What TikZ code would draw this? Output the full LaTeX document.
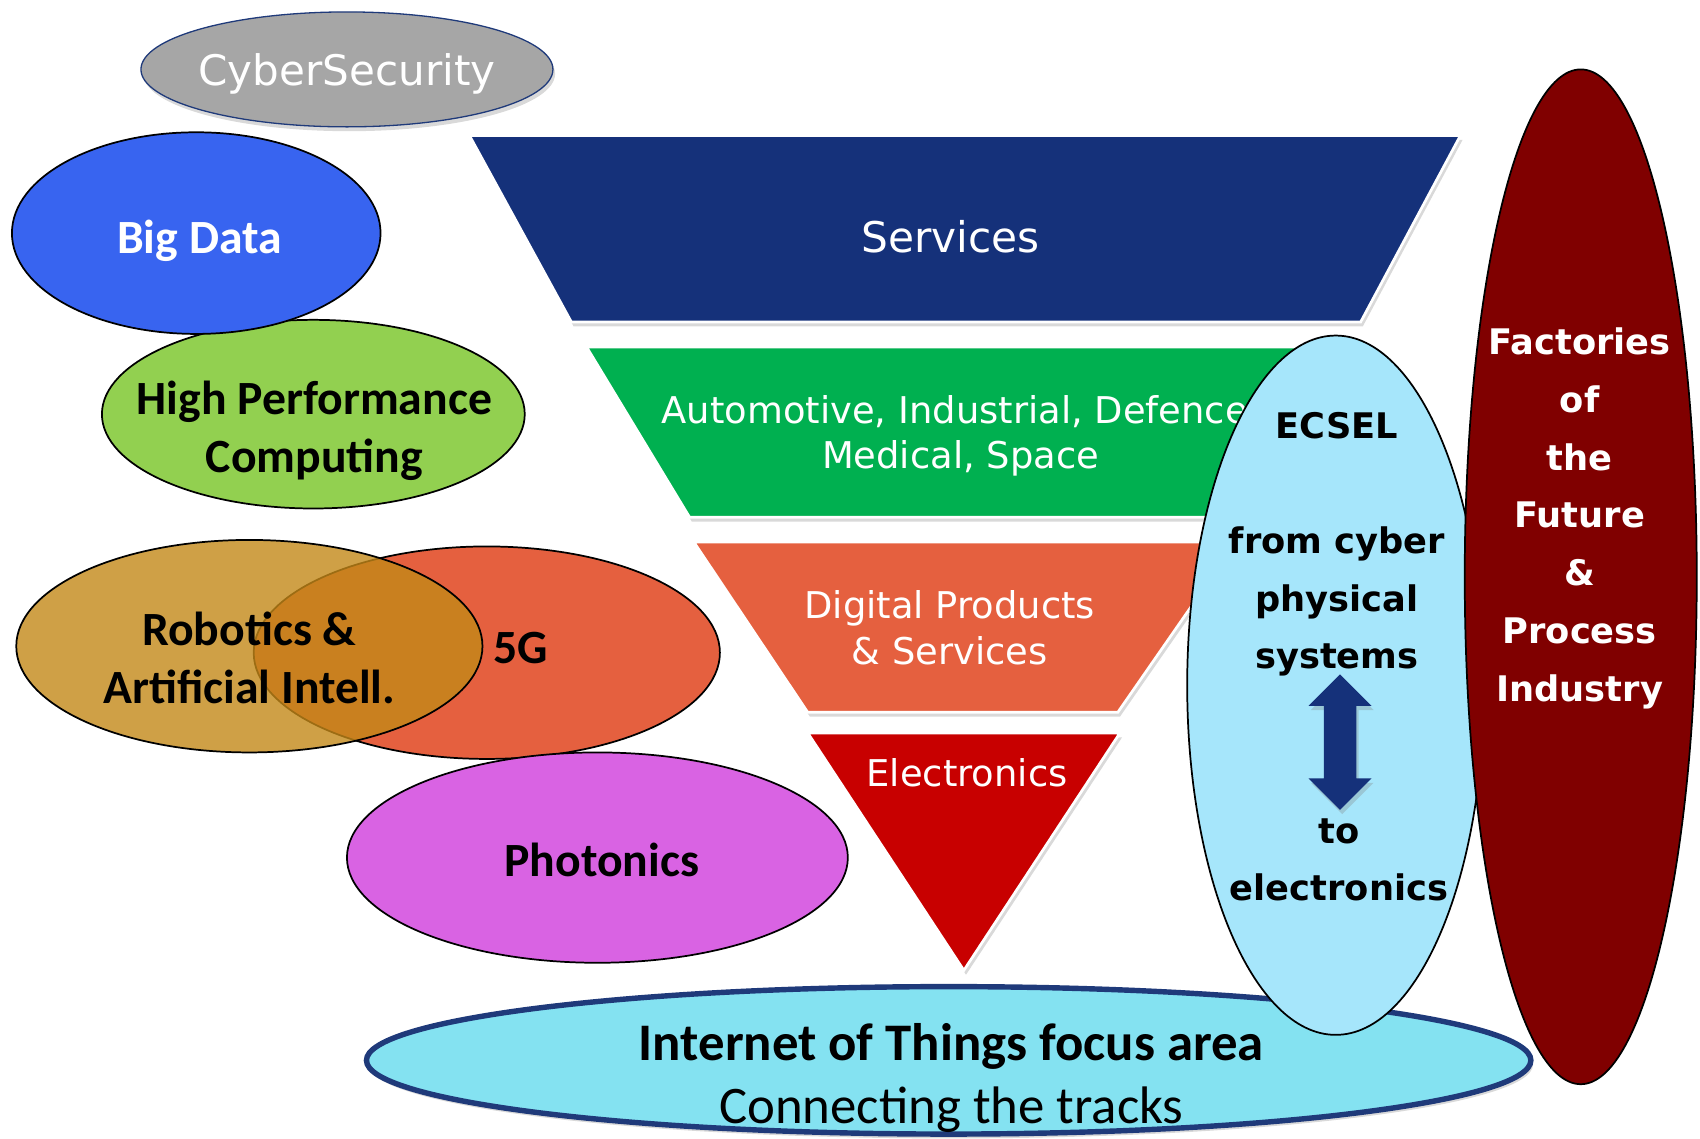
\documentclass[tikz,border=0pt]{standalone}
\usepackage{fontspec}
\setmainfont{Carlito}
\newfontfamily\verdfont{DejaVu Sans}
\usetikzlibrary{shapes.geometric,shadows}

\definecolor{cyberGray}{HTML}{A6A6A6}
\definecolor{darkNavy}{HTML}{1F3A7A}
\definecolor{bigBlue}{HTML}{3864F0}
\definecolor{hpcGreen}{HTML}{92D050}
\definecolor{roboGold}{HTML}{C38818}
\definecolor{fiveOrange}{HTML}{E5603F}
\definecolor{photoPink}{HTML}{D963E3}
\definecolor{servNavy}{HTML}{15317A}
\definecolor{autoGreen}{HTML}{00B050}
\definecolor{elecRed}{HTML}{C80000}
\definecolor{iotCyan}{HTML}{84E2F1}
\definecolor{ecselBlue}{HTML}{A6E6FB}
\definecolor{factRed}{HTML}{800000}

\begin{document}
\begin{tikzpicture}[
    x=1pt, y=-1pt,
    blob/.style={%
      draw,
      ellipse,
      line width=1.6pt,
      inner sep=0pt,
    },
    shade/.style={%
      drop shadow={shadow xshift=2pt, shadow yshift=-4pt, opacity=0.3},
    },
    funnel/.style={%
      draw=white,
      line width=2.5pt,
      shade,
    },
    txt/.style={%
      inner sep=0pt,
      align=center,
    },
    calib/.style={%
      txt,
      font=\bfseries\fontsize{44}{53}\selectfont,
    },
    verd/.style={%
      txt,
      text=white,
      font=\verdfont\fontsize{34}{41}\selectfont,
    },
    verdbold/.style={%
      txt,
      font=\verdfont\bfseries\fontsize{32.5}{53}\selectfont,
    },
  ]
    \useasboundingbox (0,0) rectangle (1568,1050);

    % left column
    \node [blob, shade, draw=darkNavy, line width=1.2pt, fill=cyberGray,
      minimum width=380pt, minimum height=106pt] (CS) at (320,64) {};
    \path (CS) ++(0,4) node [verd, font=\verdfont\fontsize{38.8}{46}\selectfont] (CStext) {CyberSecurity};

    \node [blob, fill=hpcGreen, minimum width=390pt, minimum height=174pt] (HPC) at (289,382) {};
    \path (HPC) ++(1,15.5) node [calib] (HPCtext) {High Performance\\Computing};

    \node [blob, fill=bigBlue, minimum width=340pt, minimum height=186pt] (BD) at (181,215) {};
    \path (BD) ++(3,7) node [calib, text=white] (BDtext) {Big Data};

    \node [blob, fill=fiveOrange, minimum width=430pt, minimum height=196pt] (FG) at (449,602) {};
    \node [blob, fill=roboGold, fill opacity=0.8, minimum width=430pt, minimum height=196pt] (RAI) at (230,596) {};
    \path (FG) ++(31,-4) node [calib] (FGtext) {5G};
    \path (RAI) ++(0,11) node [calib] (RAItext) {Robotics \&\\Artificial Intell.};

    \node [blob, fill=photoPink, minimum width=462pt, minimum height=194pt] (PH) at (551,791) {};
    \path (PH) ++(4,2) node [calib] (PHtext) {Photonics};

    % funnel
    \filldraw [funnel, fill=servNavy] (433,125) -- (1347,125) -- (1255,297) -- (527,297) -- cycle;
    \node [verd, font=\verdfont\fontsize{39}{46}\selectfont] (SV) at (877,218) {Services};

    \filldraw [funnel, fill=autoGreen] (541,320) -- (1239,320) -- (1144,477) -- (636,477) -- cycle;
    \node [verd] (AU) at (886,402) {Automotive, Industrial, Defence,\\Medical, Space};

    \filldraw [funnel, fill=fiveOrange] (640,500) -- (1140,500) -- (1031,657) -- (745,657) -- cycle;
    \node [verd, font=\verdfont\fontsize{34}{42}\selectfont] (DP) at (876,579) {Digital Products\\\& Services};

    \filldraw [funnel, fill=elecRed] (745,676) -- (1033,676) -- (889,895) -- cycle;
    \node [verd] (EL) at (892,713) {Electronics};

    % bottom and right
    \node [blob, shade, draw=darkNavy, line width=5pt, fill=iotCyan,
      minimum width=1074pt, minimum height=136pt] (IOT) at (875,978) {};
    \path (IOT) ++(2.5,16) node [txt, font=\fontsize{48.7}{58}\selectfont] (IOTtext)
      {{\bfseries Internet of Things focus area}\\Connecting the tracks};

    \node [blob, fill=ecselBlue, minimum width=274pt, minimum height=645pt] (EC) at (1232,632) {};
    \path (EC) ++(1,-130) node [verdbold] (ECtop) {ECSEL\\[53pt]from cyber\\physical\\systems};
    \path (EC) ++(3,161) node [verdbold] (ECbot) {to\\electronics};
    \fill [servNavy, shade] (1236,622) -- (1265,651) -- (1251,651) -- (1251,718) -- (1265,718)
      -- (1236,747) -- (1207,718) -- (1221,718) -- (1221,651) -- (1207,651) -- cycle;

    \node [blob, fill=factRed, minimum width=214pt, minimum height=936pt] (FF) at (1458,532) {};
    \path (FF) ++(-1,-54) node [verdbold, text=white, font=\verdfont\bfseries\fontsize{32.5}{53.3}\selectfont] (FFtext)
      {Factories\\of\\the\\Future\\\&\\Process\\Industry};
\end{tikzpicture}
\end{document}
